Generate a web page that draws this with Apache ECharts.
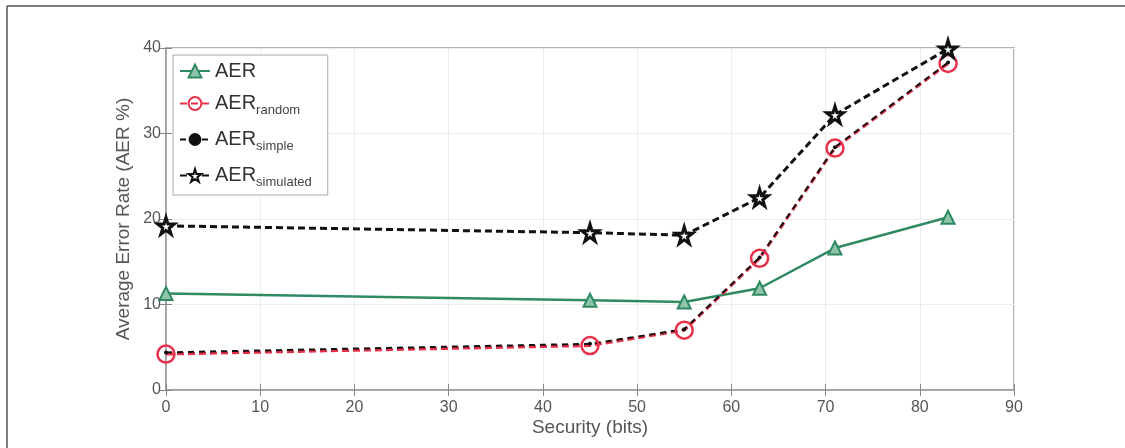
<!DOCTYPE html>
<html>
<head>
<meta charset="utf-8">
<script src="https://cdn.jsdelivr.net/npm/echarts@6/dist/echarts.min.js"></script>
<style>
html,body{margin:0;padding:0;background:#fff;}
#c{width:1125px;height:448px;}
</style>
</head>
<body>
<div id="c"></div>
<script>
const securityBits = [0, 45, 55, 63, 71, 83];
const aer = [11.3, 10.5, 10.3, 11.9, 16.6, 20.2];
const aerRandom = [4.2, 5.2, 7.0, 15.4, 28.3, 38.2];
const aerSimple = [4.4, 5.4, 7.1, 15.5, 28.4, 38.3];
const aerSimulated = [19.2, 18.4, 18.1, 22.5, 32.2, 39.9];
const xTicks = [0, 10, 20, 30, 40, 50, 60, 70, 80, 90];
const yTicks = [0, 10, 20, 30, 40];
const legendSubs = {AER: '', AER_random: 'random', AER_simple: 'simple', AER_simulated: 'simulated'};

const pairs = (ys) => securityBits.map((x, i) => [x, ys[i]]);
const starPath = 'path://M50,0 L61,35 L98,35 L68,57 L79,91 L50,70 L21,91 L32,57 L2,35 L39,35 Z';
const GREEN = '#2f8a62', RED = '#e8304a', BLACK = '#111';
const tickColor = '#888';
const FONT = 'Liberation Sans, Arial, sans-serif';
const tickLabelStyle = {color: '#555', fontSize: 16, fontFamily: FONT};
const nameStyle = {color: '#555', fontSize: 19, fontFamily: FONT};

const chart = echarts.init(document.getElementById('c'));
chart.setOption({
  backgroundColor: '#fff',
  animation: false,
  grid: {left: 166, right: 111, top: 48, bottom: 58, show: true, borderColor: '#999', borderWidth: 1.5},
  graphic: [
    {type: 'line', shape: {x1: 7, y1: 6, x2: 1125, y2: 6}, style: {stroke: '#555', lineWidth: 1.5}},
    {type: 'line', shape: {x1: 7, y1: 6, x2: 7, y2: 448}, style: {stroke: '#555', lineWidth: 1.5}}
  ],
  legend: {
    left: 173, top: 55, orient: 'vertical',
    padding: [6, 16, 6, 6],
    itemGap: 9, itemWidth: 30, itemHeight: 16,
    backgroundColor: '#fff', borderColor: '#aaa', borderWidth: 1,
    data: ['AER', 'AER_random', 'AER_simple', 'AER_simulated'],
    formatter: (n) => legendSubs[n] ? '{a|AER}{s|' + legendSubs[n] + '}' : '{a|AER}',
    textStyle: {
      color: '#333',
      rich: {
        a: {fontSize: 20, fontFamily: FONT, color: '#333', lineHeight: 24},
        s: {fontSize: 13, fontFamily: FONT, color: '#444', padding: [14, 0, 0, 0], lineHeight: 24}
      }
    }
  },
  xAxis: [{
    type: 'value', min: 0, max: 90, interval: 10,
    name: 'Security (bits)', nameLocation: 'middle', nameGap: 28, nameMoveOverlap: false,
    nameTextStyle: nameStyle,
    axisLine: {show: true, lineStyle: {color: '#999', width: 1.5}},
    axisTick: {inside: true, length: 6, lineStyle: {color: tickColor}},
    axisLabel: Object.assign({margin: 10, formatter: (v) => xTicks.includes(v) ? String(v) : ''}, tickLabelStyle),
    splitLine: {show: true, lineStyle: {color: '#ececec', width: 1}}
  }, {
    type: 'value', min: 0, max: 90, interval: 10, position: 'top',
    axisLine: {show: false}, axisTick: {inside: true, length: 6, lineStyle: {color: tickColor}},
    axisLabel: {show: false}, splitLine: {show: false}
  }],
  yAxis: [{
    type: 'value', min: 0, max: 40, interval: 10,
    name: 'Average Error Rate (AER %)', nameLocation: 'middle', nameGap: 33, nameMoveOverlap: false,
    nameTextStyle: nameStyle,
    axisLine: {show: true, lineStyle: {color: '#999', width: 1.5}},
    axisTick: {show: true, inside: true, length: 6, lineStyle: {color: tickColor}},
    axisLabel: Object.assign({margin: 5, formatter: (v) => yTicks.includes(v) ? String(v) : ''}, tickLabelStyle),
    splitLine: {show: true, lineStyle: {color: '#ececec', width: 1}}
  }, {
    type: 'value', min: 0, max: 40, interval: 10, position: 'right',
    axisLine: {show: false}, axisTick: {show: true, inside: true, length: 6, lineStyle: {color: tickColor}},
    axisLabel: {show: false}, splitLine: {show: false}
  }],
  series: [
    {
      name: 'AER', type: 'line', data: pairs(aer),
      symbol: 'triangle', symbolSize: 13,
      lineStyle: {color: GREEN, width: 2.5},
      itemStyle: {color: '#8fc4aa', borderColor: GREEN, borderWidth: 2}
    },
    {
      name: 'AER_random', type: 'line', data: pairs(aerRandom),
      symbol: 'circle', symbolSize: 17,
      lineStyle: {color: RED, width: 3, type: [7, 4]},
      itemStyle: {color: 'rgba(255,255,255,0)', borderColor: RED, borderWidth: 2.5}
    },
    {
      name: 'AER_simple', type: 'line', data: pairs(aerSimple),
      symbol: 'circle', symbolSize: 4,
      lineStyle: {color: BLACK, width: 2, type: [6, 5]},
      itemStyle: {color: BLACK, borderColor: BLACK, borderWidth: 0}
    },
    {
      name: 'AER_simulated', type: 'line', data: pairs(aerSimulated),
      symbol: starPath, symbolSize: 17,
      lineStyle: {color: BLACK, width: 3, type: [7, 4]},
      itemStyle: {color: '#fff', borderColor: BLACK, borderWidth: 3}
    }
  ]
});
</script>
</body>
</html>
